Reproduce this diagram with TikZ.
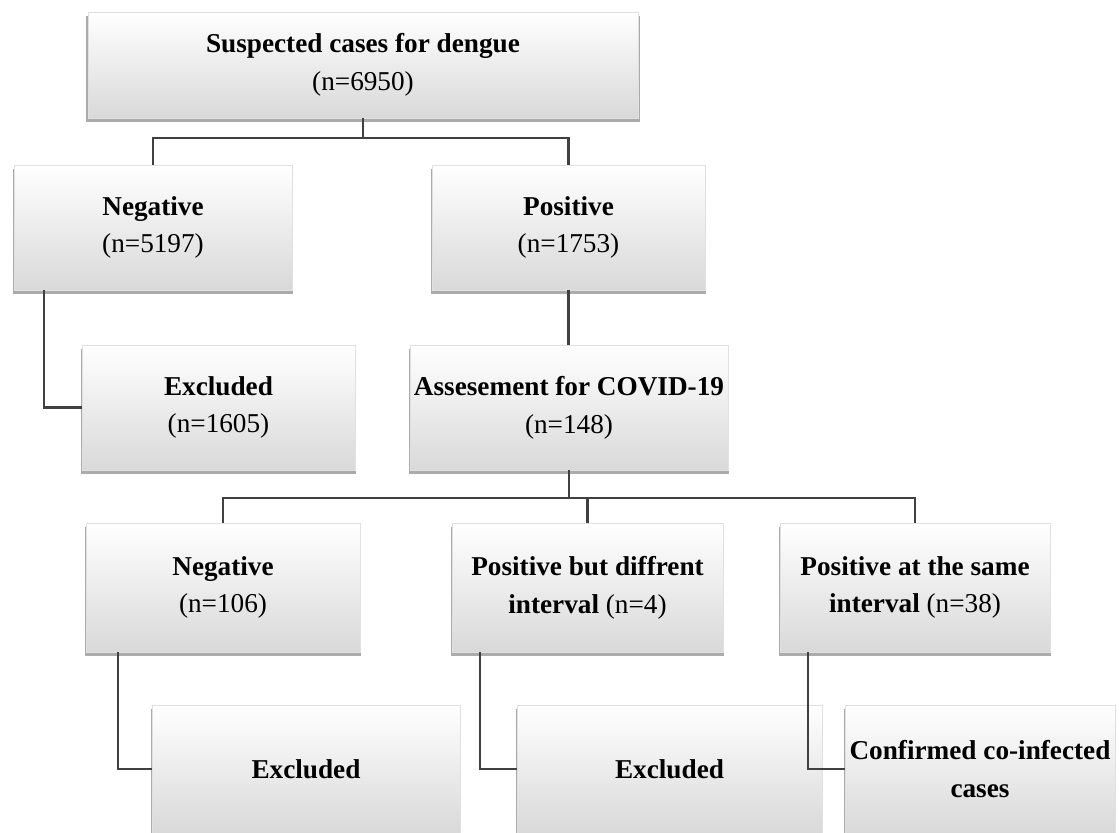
\documentclass[tikz,border=0pt]{standalone}
\usepackage{fontspec}
\setmainfont{Liberation Serif}
\usetikzlibrary{positioning, shadows, calc}

\begin{document}
\begin{tikzpicture}[
                x=0.02cm, y=-0.02cm,
                box/.style={draw=black!12, inner sep=1pt, align=center,
                            top color=white, middle color=white, bottom color=black!15,
                            drop shadow={opacity=0.55, fill=black!60, shadow scale=1.006,
                                         shadow xshift=0pt, shadow yshift=-2.2pt},
                            font=\fontsize{15.5}{21.5}\selectfont},
                link/.style={draw=black!75, line width=1.3pt},
            ]
                \clip (0,0) rectangle (1119,832);
                \fill[white] (0,0) rectangle (1119,832);

                % first screening
                \node[box, minimum width=11cm, minimum height=2.12cm] (susp) at (363,65)
                    {\textbf{Suspected cases for dengue}\\(n=6950)};
                \node[box, minimum width=5.56cm, minimum height=2.5cm] (neg) at (153,227.5)
                    {\textbf{Negative}\\(n=5197)};
                \node[box, minimum width=5.46cm, minimum height=2.5cm] (pos) at (568.5,227.5)
                    {\textbf{Positive}\\(n=1753)};
                \node[box, minimum width=5.46cm, minimum height=2.5cm] (excl) at (218.5,407.5)
                    {\textbf{Excluded}\\(n=1605)};
                \node[box, minimum width=6.36cm, minimum height=2.5cm] (assess) at (569,407.5)
                    {\textbf{Assesement for COVID-19}\\(n=148)};

                % COVID-19 results
                \node[box, minimum width=5.48cm, minimum height=2.58cm] (negc) at (223,587.5)
                    {\textbf{Negative}\\(n=106)};
                \node[box, minimum width=5.42cm, minimum height=2.58cm] (posd) at (587.5,587.5)
                    {\textbf{Positive but diffrent}\\\textbf{interval} (n=4)};
                \node[box, minimum width=5.4cm, minimum height=2.58cm] (poss) at (915,587.5)
                    {\textbf{Positive at the same}\\\textbf{interval} (n=38)};
                \node[box, minimum width=6.16cm, minimum height=2.56cm] (exclc) at (306,769)
                    {\textbf{Excluded}};
                \node[box, minimum width=6.1cm, minimum height=2.56cm] (excld) at (669.5,769)
                    {\textbf{Excluded}};
                \node[box, minimum width=5.4cm, minimum height=2.56cm] (conf) at (980,769)
                    {\textbf{Confirmed co-infected}\\\textbf{cases}};

                % connectors
                \draw[link] (susp.south) -- ++(0,20) coordinate (split1);
                \draw[link] (split1) -| (neg.north);
                \draw[link] (split1) -| (pos.north);
                \draw[link] ([xshift=0.6cm]neg.south west) |- (excl.west);
                \draw[link] (pos.south) -- (pos.south |- assess.north);
                \draw[link] (assess.south) -- ++(0,28) coordinate (split2);
                \foreach \n in {negc, posd, poss} {
                    \draw[link] (split2) -| (\n.north);
                }
                \draw[link] ([xshift=0.64cm]negc.south west) |- (exclc.west);
                \draw[link] ([xshift=0.56cm]posd.south west) |- (excld.west);
                \draw[link] ([xshift=0.56cm]poss.south west) |- (conf.west);
            \end{tikzpicture}
\end{document}
